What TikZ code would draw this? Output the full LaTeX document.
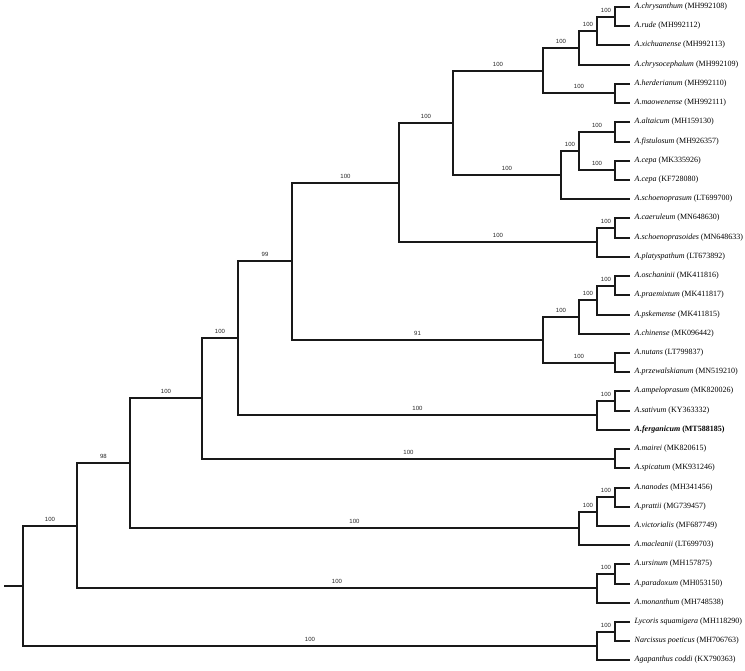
\documentclass[tikz,border=0pt]{standalone}
\usepackage{fontspec}
\setmainfont{Liberation Serif}
\newfontfamily\bsfont{Liberation Sans}
\begin{document}
\begin{tikzpicture}[x=1pt,y=-1pt,
  br/.style={line width=2pt, black!90},
  leaf/.style={anchor=west, inner xsep=4.5pt, inner ysep=1pt, font=\fontsize{8}{9}\selectfont},
  bs/.style={anchor=south, inner sep=0pt, yshift=3.3pt, font=\bsfont\fontsize{6}{7}\selectfont, text=black!85}]
\useasboundingbox[fill=white] (0,0) rectangle (745,670);
% leaves
\node[leaf] (l1) at (630,7) {\textit{A.chrysanthum} (MH992108)};
\node[leaf] (l2) at (630,26) {\textit{A.rude} (MH992112)};
\node[leaf] (l3) at (630,45) {\textit{A.xichuanense} (MH992113)};
\node[leaf] (l4) at (630,65) {\textit{A.chrysocephalum} (MH992109)};
\node[leaf] (l5) at (630,84) {\textit{A.herderianum} (MH992110)};
\node[leaf] (l6) at (630,103) {\textit{A.maowenense} (MH992111)};
\node[leaf] (l7) at (630,122) {\textit{A.altaicum} (MH159130)};
\node[leaf] (l8) at (630,142) {\textit{A.fistulosum} (MH926357)};
\node[leaf] (l9) at (630,161) {\textit{A.cepa} (MK335926)};
\node[leaf] (l10) at (630,180) {\textit{A.cepa} (KF728080)};
\node[leaf] (l11) at (630,199) {\textit{A.schoenoprasum} (LT699700)};
\node[leaf] (l12) at (630,218) {\textit{A.caeruleum} (MN648630)};
\node[leaf] (l13) at (630,238) {\textit{A.schoenoprasoides} (MN648633)};
\node[leaf] (l14) at (630,257) {\textit{A.platyspathum} (LT673892)};
\node[leaf] (l15) at (630,276) {\textit{A.oschaninii} (MK411816)};
\node[leaf] (l16) at (630,295) {\textit{A.praemixtum} (MK411817)};
\node[leaf] (l17) at (630,315) {\textit{A.pskemense} (MK411815)};
\node[leaf] (l18) at (630,334) {\textit{A.chinense} (MK096442)};
\node[leaf] (l19) at (630,353) {\textit{A.nutans} (LT799837)};
\node[leaf] (l20) at (630,372) {\textit{A.przewalskianum} (MN519210)};
\node[leaf] (l21) at (630,391) {\textit{A.ampeloprasum} (MK820026)};
\node[leaf] (l22) at (630,411) {\textit{A.sativum} (KY363332)};
\node[leaf] (l23) at (630,430) {\textbf{\textit{A.ferganicum} (MT588185)}};
\node[leaf] (l24) at (630,449) {\textit{A.mairei} (MK820615)};
\node[leaf] (l25) at (630,468) {\textit{A.spicatum} (MK931246)};
\node[leaf] (l26) at (630,488) {\textit{A.nanodes} (MH341456)};
\node[leaf] (l27) at (630,507) {\textit{A.prattii} (MG739457)};
\node[leaf] (l28) at (630,526) {\textit{A.victorialis} (MF687749)};
\node[leaf] (l29) at (630,545) {\textit{A.macleanii} (LT699703)};
\node[leaf] (l30) at (630,564) {\textit{A.ursinum} (MH157875)};
\node[leaf] (l31) at (630,584) {\textit{A.paradoxum} (MH053150)};
\node[leaf] (l32) at (630,603) {\textit{A.monanthum} (MH748538)};
\node[leaf] (l33) at (630,622) {\textit{Lycoris squamigera} (MH118290)};
\node[leaf] (l34) at (630,641) {\textit{Narcissus poeticus} (MH706763)};
\node[leaf] (l35) at (630,660) {\textit{Agapanthus coddi} (KX790363)};
% internal nodes
\coordinate (n1) at (615,17);
\coordinate (n2) at (597,31);
\coordinate (n3) at (579,48);
\coordinate (n4) at (615,93);
\coordinate (n5) at (543,71);
\coordinate (n6) at (615,132);
\coordinate (n7) at (615,170);
\coordinate (n8) at (579,151);
\coordinate (n9) at (561,175);
\coordinate (n10) at (453,123);
\coordinate (n11) at (615,228);
\coordinate (n12) at (597,242);
\coordinate (n13) at (399,183);
\coordinate (n14) at (615,286);
\coordinate (n15) at (597,300);
\coordinate (n16) at (579,317);
\coordinate (n17) at (615,363);
\coordinate (n18) at (543,340);
\coordinate (n19) at (292,261);
\coordinate (n20) at (615,401);
\coordinate (n21) at (597,415);
\coordinate (n22) at (238,338);
\coordinate (n23) at (615,459);
\coordinate (n24) at (202,398);
\coordinate (n25) at (615,497);
\coordinate (n26) at (597,512);
\coordinate (n27) at (579,528);
\coordinate (n28) at (130,463);
\coordinate (n29) at (615,574);
\coordinate (n30) at (597,588);
\coordinate (n31) at (77,526);
\coordinate (n32) at (615,632);
\coordinate (n33) at (597,646);
\coordinate (root) at (23,586);
\coordinate (r0) at (4,586);
% branches
\draw[br] (n1) |- (l1); \draw[br] (n1) |- (l2);
\draw[br] (n2) |- node[bs,pos=.75]{100} (n1); \draw[br] (n2) |- (l3);
\draw[br] (n3) |- node[bs,pos=.75]{100} (n2); \draw[br] (n3) |- (l4);
\draw[br] (n4) |- (l5); \draw[br] (n4) |- (l6);
\draw[br] (n5) |- node[bs,pos=.75]{100} (n3); \draw[br] (n5) |- node[bs,pos=.75]{100} (n4);
\draw[br] (n6) |- (l7); \draw[br] (n6) |- (l8);
\draw[br] (n7) |- (l9); \draw[br] (n7) |- (l10);
\draw[br] (n8) |- node[bs,pos=.75]{100} (n6); \draw[br] (n8) |- node[bs,pos=.75]{100} (n7);
\draw[br] (n9) |- node[bs,pos=.75]{100} (n8); \draw[br] (n9) |- (l11);
\draw[br] (n10) |- node[bs,pos=.75]{100} (n5); \draw[br] (n10) |- node[bs,pos=.75]{100} (n9);
\draw[br] (n11) |- (l12); \draw[br] (n11) |- (l13);
\draw[br] (n12) |- node[bs,pos=.75]{100} (n11); \draw[br] (n12) |- (l14);
\draw[br] (n13) |- node[bs,pos=.75]{100} (n10); \draw[br] (n13) |- node[bs,pos=.75]{100} (n12);
\draw[br] (n14) |- (l15); \draw[br] (n14) |- (l16);
\draw[br] (n15) |- node[bs,pos=.75]{100} (n14); \draw[br] (n15) |- (l17);
\draw[br] (n16) |- node[bs,pos=.75]{100} (n15); \draw[br] (n16) |- (l18);
\draw[br] (n17) |- (l19); \draw[br] (n17) |- (l20);
\draw[br] (n18) |- node[bs,pos=.75]{100} (n16); \draw[br] (n18) |- node[bs,pos=.75]{100} (n17);
\draw[br] (n19) |- node[bs,pos=.75]{100} (n13); \draw[br] (n19) |- node[bs,pos=.75]{91} (n18);
\draw[br] (n20) |- (l21); \draw[br] (n20) |- (l22);
\draw[br] (n21) |- node[bs,pos=.75]{100} (n20); \draw[br] (n21) |- (l23);
\draw[br] (n22) |- node[bs,pos=.75]{99} (n19); \draw[br] (n22) |- node[bs,pos=.75]{100} (n21);
\draw[br] (n23) |- (l24); \draw[br] (n23) |- (l25);
\draw[br] (n24) |- node[bs,pos=.75]{100} (n22); \draw[br] (n24) |- node[bs,pos=.75]{100} (n23);
\draw[br] (n25) |- (l26); \draw[br] (n25) |- (l27);
\draw[br] (n26) |- node[bs,pos=.75]{100} (n25); \draw[br] (n26) |- (l28);
\draw[br] (n27) |- node[bs,pos=.75]{100} (n26); \draw[br] (n27) |- (l29);
\draw[br] (n28) |- node[bs,pos=.75]{100} (n24); \draw[br] (n28) |- node[bs,pos=.75]{100} (n27);
\draw[br] (n29) |- (l30); \draw[br] (n29) |- (l31);
\draw[br] (n30) |- node[bs,pos=.75]{100} (n29); \draw[br] (n30) |- (l32);
\draw[br] (n31) |- node[bs,pos=.75]{98} (n28); \draw[br] (n31) |- node[bs,pos=.75]{100} (n30);
\draw[br] (n32) |- (l33); \draw[br] (n32) |- (l34);
\draw[br] (n33) |- node[bs,pos=.75]{100} (n32); \draw[br] (n33) |- (l35);
\draw[br] (root) |- node[bs,pos=.75]{100} (n31); \draw[br] (root) |- node[bs,pos=.75]{100} (n33);
\draw[br] (r0) -- (root);
\end{tikzpicture}
\end{document}
